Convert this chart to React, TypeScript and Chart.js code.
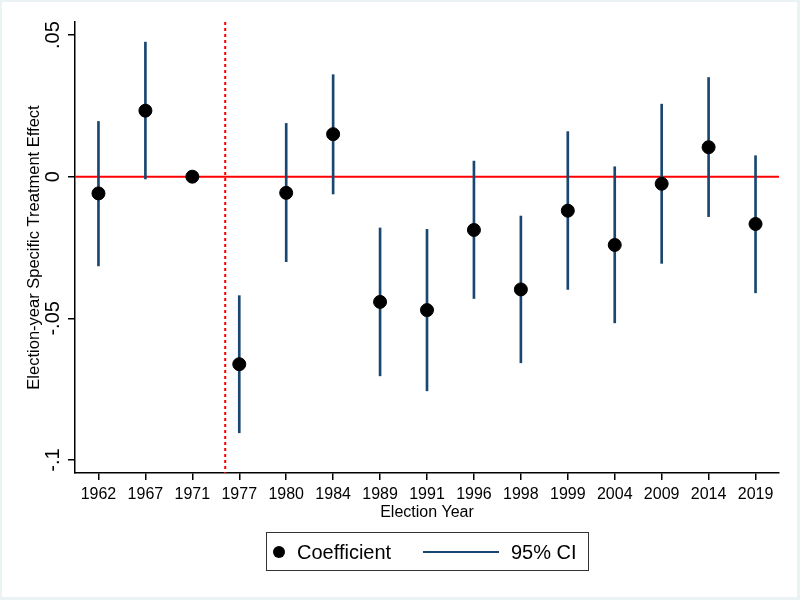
import { useEffect, useRef } from "react";
import Chart from "chart.js/auto";

const years = ["1962", "1967", "1971", "1977", "1980", "1984", "1989", "1991", "1996", "1998", "1999", "2004", "2009", "2014", "2019"];
const coef = [-0.0059, 0.0233, 0, -0.0662, -0.0057, 0.015, -0.0442, -0.0471, -0.0188, -0.0398, -0.012, -0.0241, -0.0025, 0.0104, -0.0167];
const ciLow = [-0.0315, -0.0008, null, -0.0904, -0.03, -0.0061, -0.0703, -0.0756, -0.043, -0.0657, -0.0398, -0.0516, -0.0306, -0.0141, -0.041];
const ciHigh = [0.0195, 0.0475, null, -0.042, 0.0188, 0.036, -0.0181, -0.0186, 0.0055, -0.0139, 0.0159, 0.0035, 0.0256, 0.035, 0.0074];
const yTicks = [-0.1, -0.05, 0, 0.05];
// treatment starts between 1971 and 1977 (index position)
const treatmentBreak = 2.7;

const FONT = "'Liberation Sans', Arial, Helvetica, sans-serif";
const NAVY = "#1a476f";

const fmt = (v: number) => {
  if (Math.abs(v) < 1e-9) return "0";
  const s = String(Math.round(v * 1000) / 1000);
  return s.replace("0.", ".");
};

const refLines = {
  id: "refLines",
  beforeDatasetsDraw(chart: any) {
    const { ctx, chartArea, scales } = chart;
    const y0 = scales.y.getPixelForValue(0);
    const xb = scales.x.getPixelForValue(treatmentBreak);
    ctx.save();
    ctx.strokeStyle = "#ff0000";
    ctx.lineWidth = 2;
    ctx.beginPath();
    ctx.moveTo(chartArea.left, y0);
    ctx.lineTo(chartArea.right, y0);
    ctx.stroke();
    ctx.setLineDash([3, 3]);
    ctx.beginPath();
    ctx.moveTo(xb, chartArea.top);
    ctx.lineTo(xb, chartArea.bottom);
    ctx.stroke();
    ctx.restore();
  },
};

const frame = {
  id: "frame",
  beforeDraw(chart: any) {
    const { ctx, width, height } = chart;
    ctx.save();
    ctx.fillStyle = "#eaf2f3";
    ctx.fillRect(0, 0, width, height);
    ctx.fillStyle = "#ffffff";
    ctx.fillRect(2, 2, width - 5, height - 5);
    ctx.restore();
  },
};

const boxLegend = {
  id: "boxLegend",
  afterDraw(chart: any) {
    const { ctx } = chart;
    const ds = chart.data.datasets;
    ctx.save();
    ctx.strokeStyle = "#333";
    ctx.lineWidth = 1;
    ctx.strokeRect(266.5, 532.5, 322, 38);
    ctx.fillStyle = "#000";
    ctx.beginPath();
    ctx.arc(279, 552, 6, 0, Math.PI * 2);
    ctx.fill();
    ctx.font = `20px ${FONT}`;
    ctx.textBaseline = "middle";
    ctx.fillText(ds[0].label, 297, 553);
    ctx.strokeStyle = NAVY;
    ctx.lineWidth = 2;
    ctx.beginPath();
    ctx.moveTo(423, 552);
    ctx.lineTo(499, 552);
    ctx.stroke();
    ctx.fillStyle = "#000";
    ctx.fillText(ds[1].label, 511, 553);
    ctx.restore();
  },
};

export default function App() {
  const ref = useRef<HTMLCanvasElement | null>(null);

  useEffect(() => {
    document.body.style.margin = "0";
    if (!ref.current) return;
    const ctx = ref.current.getContext("2d");
    if (!ctx) return;

    const points = coef.map((v, i) => ({ x: i, y: v }));
    const ci = years
      .map((_, i) => (ciLow[i] == null ? null : { x: i, y: [ciLow[i], ciHigh[i]] }))
      .filter((d) => d !== null);

    const chart = new Chart(ctx, {
      type: "scatter",
      data: {
        datasets: [
          {
            label: "Coefficient",
            data: points,
            backgroundColor: "#000",
            borderColor: "#000",
            pointRadius: 6.5,
            pointHoverRadius: 6.5,
            showLine: false,
          },
          {
            type: "bar",
            label: "95% CI",
            data: ci as any,
            backgroundColor: NAVY,
            borderWidth: 0,
            barThickness: 2,
          } as any,
        ],
      },
      options: {
        responsive: false,
        animation: false,
        devicePixelRatio: 1,
        layout: { padding: { left: 25, top: 22, right: 21, bottom: 78 } },
        plugins: { legend: { display: false }, tooltip: { enabled: false } },
        scales: {
          x: {
            type: "linear",
            min: -0.5,
            max: 14.5,
            offset: false,
            afterBuildTicks: (s: any) => {
              s.ticks = years.map((_, i) => ({ value: i }));
            },
            afterFit: (s: any) => {
              s.height = 49;
            },
            ticks: {
              color: "#000",
              font: { family: FONT, size: 16 },
              padding: 5,
              autoSkip: false,
              maxRotation: 0,
              callback: (v: any) => years[v] ?? "",
            },
            grid: { offset: false, drawOnChartArea: false, drawTicks: true, tickLength: 7, color: "#000", lineWidth: 1.5 },
            border: { color: "#000", width: 1.5 },
            title: { display: true, text: "Election Year", color: "#000", font: { family: FONT, size: 16 }, padding: 0 },
          },
          y: {
            type: "linear",
            min: -0.1046,
            max: 0.0546,
            afterBuildTicks: (s: any) => {
              s.ticks = yTicks.map((v) => ({ value: v }));
            },
            afterFit: (s: any) => {
              s.width = 50;
            },
            ticks: {
              color: "#000",
              font: { family: FONT, size: 20 },
              minRotation: 90,
              maxRotation: 90,
              crossAlign: "center",
              padding: -3,
              callback: (v: any) => fmt(Number(v)),
            },
            grid: { drawOnChartArea: false, drawTicks: true, tickLength: 7, color: "#000", lineWidth: 1.5 },
            border: { color: "#000", width: 1.5 },
            title: {
              display: true,
              text: "Election-year Specific Treatment Effect",
              color: "#000",
              font: { family: FONT, size: 16.5 },
              padding: 0,
            },
          },
        },
      },
      plugins: [frame, refLines, boxLegend],
    });

    return () => chart.destroy();
  }, []);

  return (
    <div style={{ width: 800, height: 600 }}>
      <canvas ref={ref} width={800} height={600} />
    </div>
  );
}
